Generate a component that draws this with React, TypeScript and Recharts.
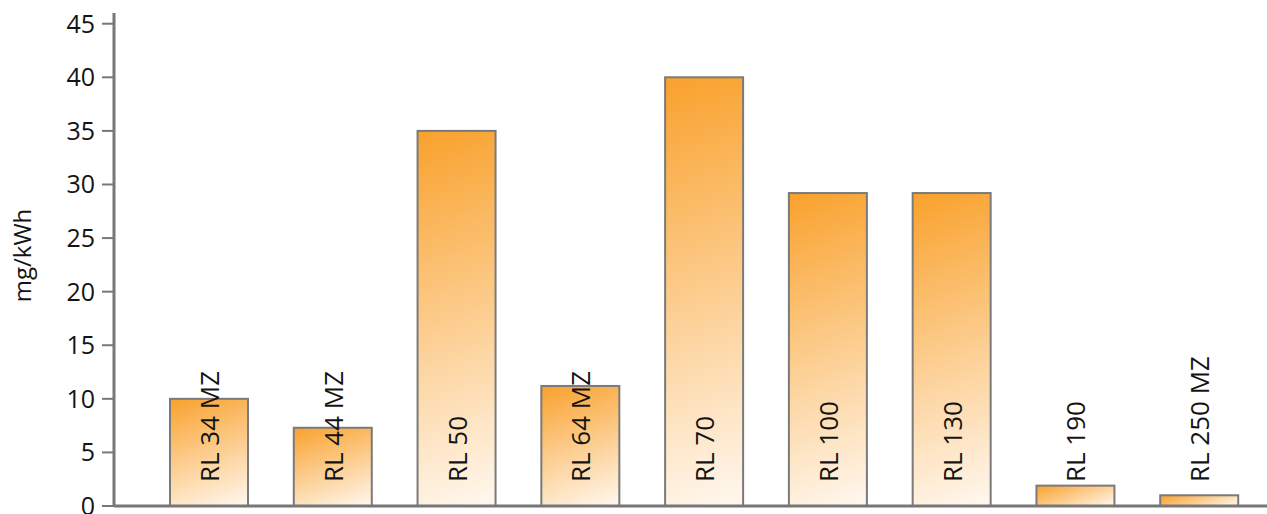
import { BarChart, Bar, XAxis, YAxis, LabelList } from 'recharts';

const models = ['RL 34 MZ', 'RL 44 MZ', 'RL 50', 'RL 64 MZ', 'RL 70', 'RL 100', 'RL 130', 'RL 190', 'RL 250 MZ'];
const emissions = [10, 7.3, 35, 11.2, 40, 29.2, 29.2, 1.9, 1];
const yTicks = [0, 5, 10, 15, 20, 25, 30, 35, 40, 45];

const data = models.map((name, i) => ({ name, value: emissions[i] }));

const FONT = '"Open Sans", "Noto Sans", sans-serif';
const AXIS = '#777777';
const TILT = (20 * Math.PI) / 180; // gradient direction, off vertical

// each bar gets its own gradient at a fixed angle, so short bars fade left-to-right
function GradientBar(props: any) {
  const { x, y, width, height, index } = props;
  if (!height || height <= 0) return null;
  const dx = Math.sin(TILT);
  const dy = Math.cos(TILT);
  const len = width * dx + height * dy;
  const cx = x + width / 2;
  const cy = y + height / 2;
  const id = `barGrad${index}`;
  return (
    <g>
      <defs>
        <linearGradient
          id={id}
          gradientUnits="userSpaceOnUse"
          x1={cx - (dx * len) / 2}
          y1={cy - (dy * len) / 2}
          x2={cx + (dx * len) / 2}
          y2={cy + (dy * len) / 2}
        >
          <stop offset="0%" stopColor="#f9a12c" />
          <stop offset="100%" stopColor="#fff8f0" />
        </linearGradient>
      </defs>
      <rect
        x={x}
        y={y}
        width={width}
        height={height}
        fill={`url(#${id})`}
        stroke="#7a7a7a"
        strokeWidth={2}
      />
    </g>
  );
}

function BarName(props: any) {
  const { x, y, width, height, value } = props;
  const cx = x + width / 2 + 10;
  const by = y + height - 24;
  return (
    <text
      x={cx}
      y={by}
      transform={`rotate(-90, ${cx}, ${by})`}
      textAnchor="start"
      fontSize={26}
      fontFamily={FONT}
      fill="#141414"
    >
      {value}
    </text>
  );
}

function UnitLabel(props: any) {
  const { viewBox } = props;
  const cx = viewBox.x + 31;
  const cy = viewBox.y + viewBox.height / 2 - 4;
  return (
    <text
      x={cx}
      y={cy}
      transform={`rotate(-90, ${cx}, ${cy})`}
      textAnchor="middle"
      fontSize={24}
      fontFamily={FONT}
      fill="#141414"
    >
      mg/kWh
    </text>
  );
}

export default function App() {
  return (
    <div style={{ position: 'fixed', left: 0, top: 0, background: '#fff' }}>
      <BarChart
        width={1267}
        height={514}
        data={data}
        margin={{ top: 13, right: 0, bottom: 0, left: 0 }}
      >
        <XAxis
          dataKey="name"
          height={8}
          tick={false}
          tickLine={false}
          axisLine={{ stroke: AXIS, strokeWidth: 3 }}
          padding={{ left: 33, right: 6 }}
        />
        <YAxis
          width={114}
          domain={[0, 46]}
          ticks={yTicks}
          interval={0}
          tickSize={12}
          tickMargin={7}
          axisLine={{ stroke: AXIS, strokeWidth: 3 }}
          tickLine={{ stroke: AXIS, strokeWidth: 2 }}
          tick={{ fontSize: 25, fontFamily: FONT, fill: '#141414' }}
          label={<UnitLabel />}
        />
        <Bar
          dataKey="value"
          barSize={78}
          shape={<GradientBar />}
          isAnimationActive={false}
        >
          <LabelList dataKey="name" content={<BarName />} />
        </Bar>
      </BarChart>
    </div>
  );
}
